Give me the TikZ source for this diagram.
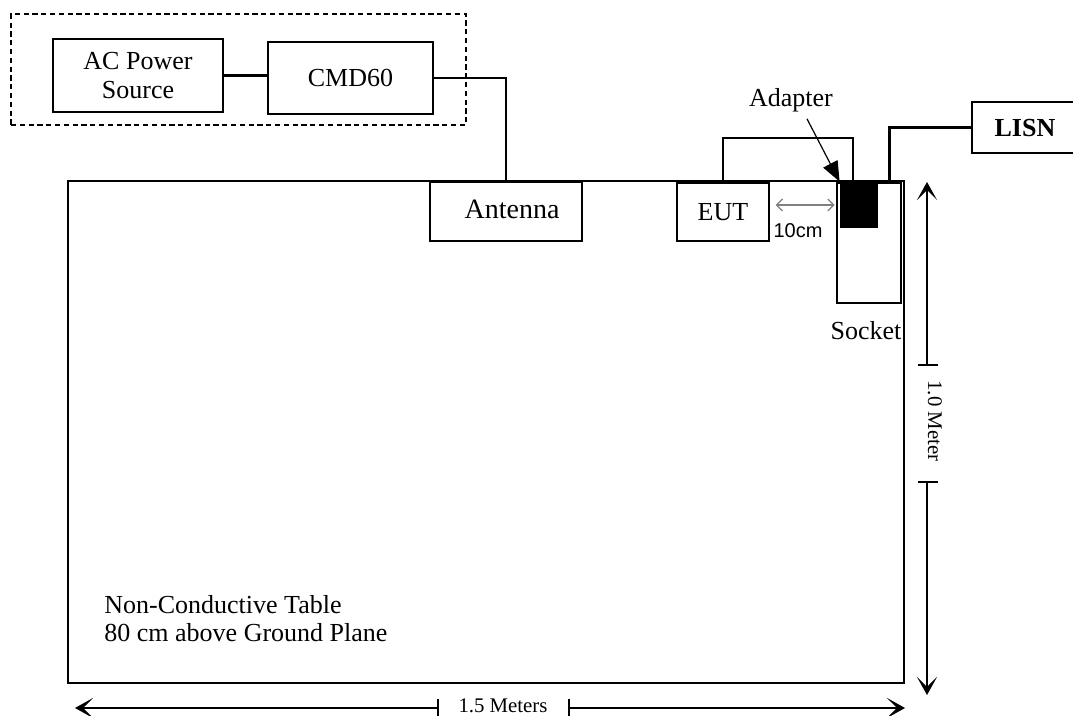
\documentclass[tikz,border=0pt]{standalone}
\usepackage{fontspec}
\setmainfont{Liberation Serif}
\newfontfamily\arialfont{Liberation Sans}
\usetikzlibrary{arrows.meta}
\usetikzlibrary{fit,calc}

\tikzset{
  box/.style={draw, line width=0.65pt, inner sep=0pt},
  boxtxt/.style={align=center, font=\fontsize{13}{14.5}\selectfont},
  wire/.style={line width=0.65pt},
  cable/.style={line width=1.5pt},
  dimline/.style={line width=0.55pt, -{Stealth[length=9pt,width=10pt,inset=5pt]}},
  dimlbl/.style={inner sep=0pt, font=\fontsize{10.4}{12}\selectfont},
}

\begin{document}
\begin{tikzpicture}[x=0.5pt,y=-0.5pt]
\useasboundingbox (0,0) rectangle (1073,716);

% equipment off the table
\node[draw, dashed, line width=0.65pt, dash pattern=on 2.6pt off 1.8pt, inner sep=0pt, fit={(11,14) (466,125)}] (rack) {};
\node[box, fit={(53,39) (223,112)}] (acsrc) {};
\node[box, fit={(268,42) (433,114)}] (cmd) {};
\node[box, fit={(972,102) (1076,153)}] (lisn) {};
\node[boxtxt] at (acsrc.center) {AC Power\\Source};
\node[boxtxt] at (cmd.center) {CMD60};
\node[boxtxt, font=\fontsize{13}{14.5}\selectfont\bfseries] at (1025,128) {LISN};

% table
\node[draw, line width=1.4pt, inner sep=0pt, fit={(68,181) (904,683)}] (table) {};
\node[anchor=west, align=left, inner sep=0pt, font=\fontsize{13}{14}\selectfont] (tabletxt) at (104,619) {Non-Conductive Table\\80 cm above Ground Plane};

\node[box, fit={(430,182) (582,241)}] (ant) {};
\node[box, fit={(677,183) (769,241)}] (eut) {};
\node[box, fit={(837,183) (901,303)}] (socket) {};
\node[fill=black, inner sep=0pt, fit={(840,182) (878,228)}] (adapter) {};
\node[boxtxt, font=\fontsize{14}{16}\selectfont] at (512,209) {Antenna};
\node[boxtxt] at (eut.center) {EUT};

\node[boxtxt] (adlbl) at (791,100) {Adapter};
\node[boxtxt] (socklbl) at (866,331) {Socket};
\node[font=\arialfont\fontsize{10}{11}\selectfont] (tencm) at (798,231) {10cm};

\coordinate (loop) at (853,138);
\coordinate (plug) at (889,181);

% cables
\draw[cable] (acsrc.east) -- (acsrc.east -| cmd.west);
\draw[wire] (cmd.east) -| (ant.north);
\draw[wire] (eut.north) |- (loop) -- (loop |- adapter.north);
\draw[cable] (plug) |- (lisn.west);
\draw[line width=0.6pt, -{Triangle[length=10pt,width=8pt]}] ([xshift=8pt]adlbl.south) -- (adapter.north west);
\draw[gray, line width=0.6pt, {Straight Barb[length=3pt,width=6pt]}-{Straight Barb[length=3pt,width=6pt]}]
  ($(eut.east |- adapter.west)+(6,0)$) -- ($(adapter.west)+(-5,0)$);

% dimensions
\coordinate (vtop) at (927,182);
\coordinate (vbot) at (927,695);
\coordinate (vbara) at (927,365);
\coordinate (vbarb) at (927,482);
\draw[dimline] (vbara) -- (vtop);
\draw[dimline] (vbarb) -- (vbot);
\foreach \c in {vbara,vbarb}
  \draw[wire] ($(\c)+(-9,0)$) -- ($(\c)+(11,0)$);
\node[dimlbl, rotate=-90] (vlbl) at (935,421) {1.0 Meter};

\coordinate (hleft) at (75,708);
\coordinate (hright) at (905,708);
\coordinate (hbara) at (438,708);
\coordinate (hbarb) at (569,708);
\draw[dimline] (hbara) -- (hleft);
\draw[dimline] (hbarb) -- (hright);
\foreach \c in {hbara,hbarb}
  \draw[wire] ($(\c)+(0,-9)$) -- ($(\c)+(0,8)$);
\node[dimlbl] (hlbl) at (503,706) {1.5 Meters};
\end{tikzpicture}
\end{document}
